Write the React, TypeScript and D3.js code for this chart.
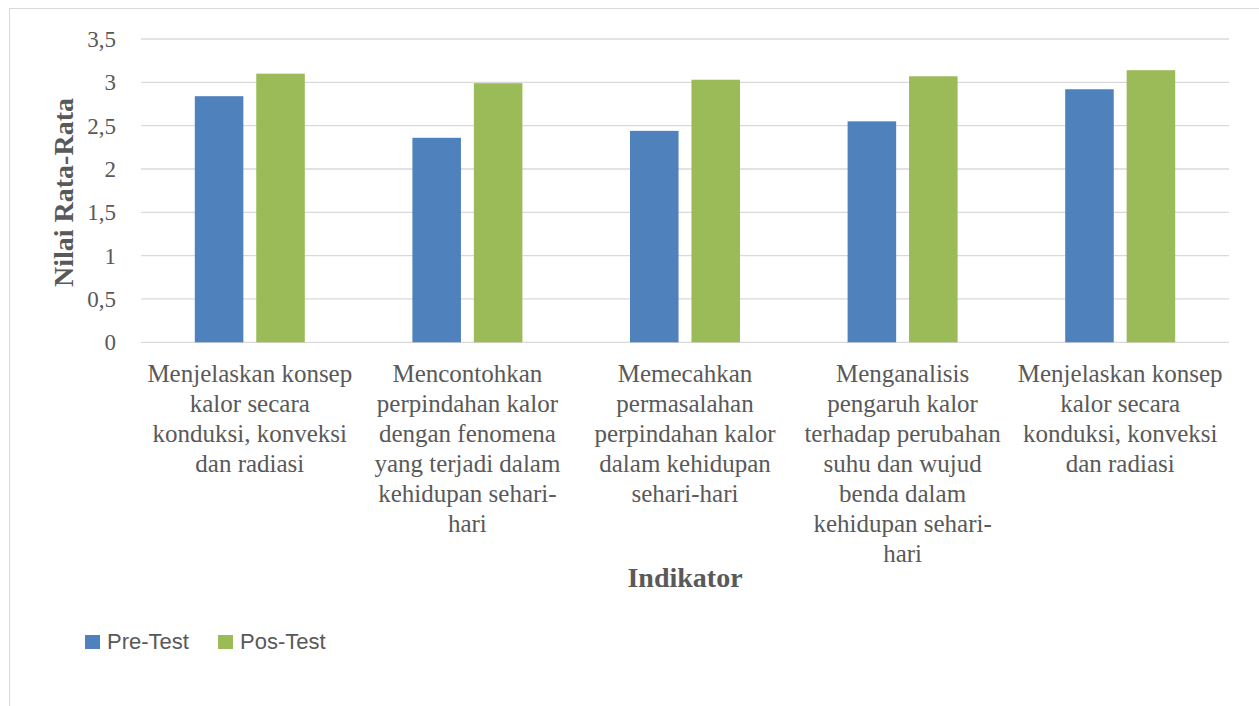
import React, { useRef, useEffect } from 'react';
import * as d3 from 'd3';

// Ukuran gambar
const width = 1259;
const height = 706;

// Data grafik
const categories = ['K1', 'K2', 'K3', 'K4', 'K5'];
const categoryLabels: string[][] = [
    ['Menjelaskan konsep', 'kalor secara', 'konduksi, konveksi', 'dan radiasi'],
    ['Mencontohkan', 'perpindahan kalor', 'dengan fenomena', 'yang terjadi dalam', 'kehidupan sehari-', 'hari'],
    ['Memecahkan', 'permasalahan', 'perpindahan kalor', 'dalam kehidupan', 'sehari-hari'],
    ['Menganalisis', 'pengaruh kalor', 'terhadap perubahan', 'suhu dan wujud', 'benda dalam', 'kehidupan sehari-', 'hari'],
    ['Menjelaskan konsep', 'kalor secara', 'konduksi, konveksi', 'dan radiasi'],
];
const seriesNames = ['Pre-Test', 'Pos-Test'];
const preTest = [2.84, 2.36, 2.44, 2.55, 2.92];
const posTest = [3.10, 2.99, 3.03, 3.07, 3.14];
const seriesColors = ['#4F81BD', '#9BBB59'];
const yTicks = [0, 0.5, 1, 1.5, 2, 2.5, 3, 3.5];

export default function App() {
    const svgRef = useRef<SVGSVGElement>(null);

    useEffect(() => {
        if (!svgRef.current) return;
        const svg = d3.select(svgRef.current);
        svg.selectAll('*').remove();

        const plot = { left: 141, right: 1229, top: 39, bottom: 342.3 };
        const textColor = '#595959';
        const serif = '"Liberation Serif", "Times New Roman", serif';
        const sans = '"Liberation Sans", Arial, sans-serif';

        // bingkai grafik
        svg.append('rect')
            .attr('x', 9.5).attr('y', 8.5)
            .attr('width', width + 20).attr('height', height + 20)
            .attr('fill', 'white').attr('stroke', '#d9d9d9').attr('stroke-width', 1);

        const y = d3.scaleLinear().domain([0, 3.5]).range([plot.bottom, plot.top]);
        const x0 = d3.scaleBand().domain(categories).range([plot.left, plot.right]).padding(0);
        const groupWidth = 110;
        const x1 = d3.scaleBand().domain(seriesNames).range([0, groupWidth]).paddingInner(0.21);

        // garis grid dan label sumbu Y
        svg.append('g').selectAll('line')
            .data(yTicks).enter().append('line')
            .attr('x1', plot.left).attr('x2', plot.right)
            .attr('y1', d => y(d)).attr('y2', d => y(d))
            .attr('stroke', '#d9d9d9').attr('stroke-width', 1.3);

        svg.append('g').selectAll('text')
            .data(yTicks).enter().append('text')
            .attr('x', 116).attr('y', d => y(d)).attr('dy', '0.35em')
            .attr('text-anchor', 'end')
            .style('font-family', serif).style('font-size', '23px').style('fill', textColor)
            .text(d => String(d).replace('.', ','));

        // batang
        const allSeries = [preTest, posTest];
        allSeries.forEach((values, si) => {
            svg.append('g').selectAll('rect')
                .data(values).enter().append('rect')
                .attr('x', (d, i) => (x0(categories[i]) as number) + (x0.bandwidth() - groupWidth) / 2 + (x1(seriesNames[si]) as number))
                .attr('y', d => y(d))
                .attr('width', x1.bandwidth())
                .attr('height', d => y(0) - y(d))
                .attr('fill', seriesColors[si]);
        });

        // label kategori
        const labelGroup = svg.append('g');
        categories.forEach((c, i) => {
            const cx = (x0(c) as number) + x0.bandwidth() / 2;
            const t = labelGroup.append('text')
                .attr('text-anchor', 'middle')
                .style('font-family', serif).style('font-size', '25px').style('fill', textColor);
            categoryLabels[i].forEach((line, li) => {
                t.append('tspan').attr('x', cx).attr('y', 382 + li * 30).text(line);
            });
        });

        // judul sumbu
        svg.append('text')
            .attr('x', 685).attr('y', 587)
            .attr('text-anchor', 'middle')
            .style('font-family', serif).style('font-size', '28px').style('font-weight', 'bold').style('fill', textColor)
            .text('Indikator');

        svg.append('text')
            .attr('transform', 'translate(73, 192.5) rotate(-90)')
            .attr('text-anchor', 'middle')
            .style('font-family', serif).style('font-size', '28px').style('font-weight', 'bold').style('fill', textColor)
            .text('Nilai Rata-Rata');

        // legenda
        const legendX = [85, 218];
        seriesNames.forEach((name, i) => {
            svg.append('rect')
                .attr('x', legendX[i]).attr('y', 635)
                .attr('width', 15).attr('height', 14)
                .attr('fill', seriesColors[i]);
            svg.append('text')
                .attr('x', legendX[i] + 22).attr('y', 649)
                .style('font-family', sans).style('font-size', '22px').style('fill', textColor)
                .text(name);
        });
    }, []);

    return (
        <div style={{ position: 'absolute', left: 0, top: 0 }}>
            <svg ref={svgRef} width={width} height={height} style={{ display: 'block' }}></svg>
        </div>
    );
}
